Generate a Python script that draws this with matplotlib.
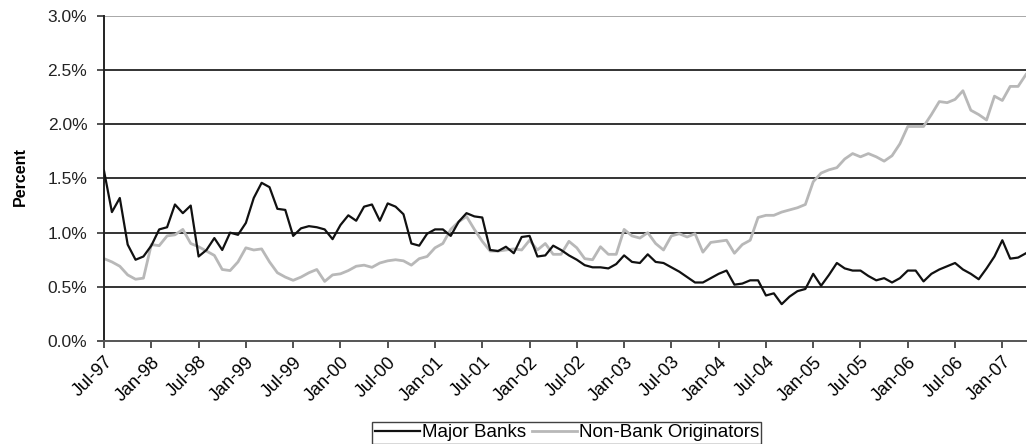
import numpy as np
import matplotlib
matplotlib.use("Agg")
import matplotlib.pyplot as plt
from matplotlib.ticker import FuncFormatter

# monthly arrears rates, Jul-97 .. Apr-07 (percent)
major_banks = [
    1.57, 1.19, 1.32, 0.89, 0.75, 0.78, 0.88, 1.03, 1.05, 1.26, 1.18, 1.25,
    0.78, 0.84, 0.95, 0.84, 1.00, 0.98, 1.09, 1.32, 1.46, 1.42, 1.22, 1.21,
    0.97, 1.04, 1.06, 1.05, 1.03, 0.94, 1.07, 1.16, 1.11, 1.24, 1.26, 1.11,
    1.27, 1.24, 1.17, 0.90, 0.88, 0.99, 1.03, 1.03, 0.97, 1.10, 1.18, 1.15,
    1.14, 0.84, 0.83, 0.87, 0.81, 0.96, 0.97, 0.78, 0.79, 0.88, 0.84, 0.79,
    0.75, 0.70, 0.68, 0.68, 0.67, 0.71, 0.79, 0.73, 0.72, 0.80, 0.73, 0.72,
    0.68, 0.64, 0.59, 0.54, 0.54, 0.58, 0.62, 0.65, 0.52, 0.53, 0.56, 0.56,
    0.42, 0.44, 0.34, 0.41, 0.46, 0.48, 0.62, 0.51, 0.61, 0.72, 0.67, 0.65,
    0.65, 0.60, 0.56, 0.58, 0.54, 0.58, 0.65, 0.65, 0.55, 0.62, 0.66, 0.69,
    0.72, 0.66, 0.62, 0.57, 0.67, 0.78, 0.93, 0.76, 0.77, 0.81,
]
non_bank = [
    0.76, 0.73, 0.69, 0.61, 0.57, 0.58, 0.89, 0.88, 0.97, 0.98, 1.03, 0.90,
    0.87, 0.83, 0.79, 0.66, 0.65, 0.73, 0.86, 0.84, 0.85, 0.73, 0.63, 0.59,
    0.56, 0.59, 0.63, 0.66, 0.55, 0.61, 0.62, 0.65, 0.69, 0.70, 0.68, 0.72,
    0.74, 0.75, 0.74, 0.70, 0.76, 0.78, 0.86, 0.90, 1.03, 1.10, 1.15, 1.03,
    0.92, 0.83, 0.83, 0.84, 0.85, 0.84, 0.93, 0.84, 0.90, 0.80, 0.80, 0.92,
    0.86, 0.76, 0.75, 0.87, 0.80, 0.80, 1.03, 0.97, 0.95, 1.00, 0.90, 0.84,
    0.97, 0.99, 0.96, 0.99, 0.82, 0.91, 0.92, 0.93, 0.81, 0.89, 0.93, 1.14,
    1.16, 1.16, 1.19, 1.21, 1.23, 1.26, 1.47, 1.55, 1.58, 1.60, 1.68, 1.73,
    1.70, 1.73, 1.70, 1.66, 1.71, 1.82, 1.98, 1.98, 1.98, 2.09, 2.21, 2.20,
    2.23, 2.31, 2.13, 2.09, 2.04, 2.26, 2.22, 2.35, 2.35, 2.46,
]
tick_labels = [
    "Jul-97", "Jan-98", "Jul-98", "Jan-99", "Jul-99", "Jan-00", "Jul-00",
    "Jan-01", "Jul-01", "Jan-02", "Jul-02", "Jan-03", "Jul-03", "Jan-04",
    "Jul-04", "Jan-05", "Jul-05", "Jan-06", "Jul-06", "Jan-07",
]

plt.rcParams["font.family"] = ["Liberation Sans", "DejaVu Sans"]
narrow = ["Liberation Sans Narrow", "Liberation Sans", "DejaVu Sans"]

months = np.arange(len(major_banks))

fig = plt.figure(figsize=(10.27, 4.44), dpi=100)
ax = fig.add_axes([0.1013, 0.232, 0.8977, 0.732])

ax.plot(months, major_banks, color="#111111", lw=1.6, label="Major Banks", zorder=3)
ax.plot(months, non_bank, color="#b8b8b8", lw=2.0, label="Non-Bank Originators", zorder=2)

ax.set_xlim(0, len(major_banks) - 1)
ax.set_ylim(0, 3.0)
ax.set_yticks(np.arange(0, 3.01, 0.5))
ax.yaxis.set_major_formatter(FuncFormatter(lambda v, p: f"{v:.1f}%"))
for yv in np.arange(0.5, 2.51, 0.5):
    ax.axhline(yv, color="#111111", lw=1.2, zorder=1)
ax.axhline(3.0, color="#999999", lw=1.2, zorder=1)

ax.set_xticks(np.arange(0, 6 * len(tick_labels), 6))
ax.set_xticklabels(tick_labels, rotation=45, ha="right", rotation_mode="anchor",
                   family=narrow, fontsize=13)
ax.tick_params(axis="x", length=5, width=1.2, color="#333333", pad=4)
ax.tick_params(axis="y", length=5, width=1.2, color="#333333", labelsize=12.5,
               pad=7, labelcolor="#222222")

for side in ("top", "right"):
    ax.spines[side].set_visible(False)
ax.spines["left"].set_linewidth(1.4)
ax.spines["left"].set_color("#222222")
ax.spines["bottom"].set_linewidth(1.4)
ax.spines["bottom"].set_color("#555555")

ax.set_ylabel("Percent", family=narrow, fontsize=11.5, fontweight="bold")
ax.yaxis.set_label_coords(-0.083, 0.505)

leg = fig.legend(loc="center", bbox_to_anchor=(0.552, 0.025), ncol=2, frameon=True,
                 fancybox=False, edgecolor="#111111", handlelength=2.4,
                 handletextpad=0.12, columnspacing=0.3, borderpad=0.12,
                 borderaxespad=0, prop={"family": narrow, "size": 13.5})
leg.get_frame().set_linewidth(1.0)

fig.savefig("out.png", dpi=100)
